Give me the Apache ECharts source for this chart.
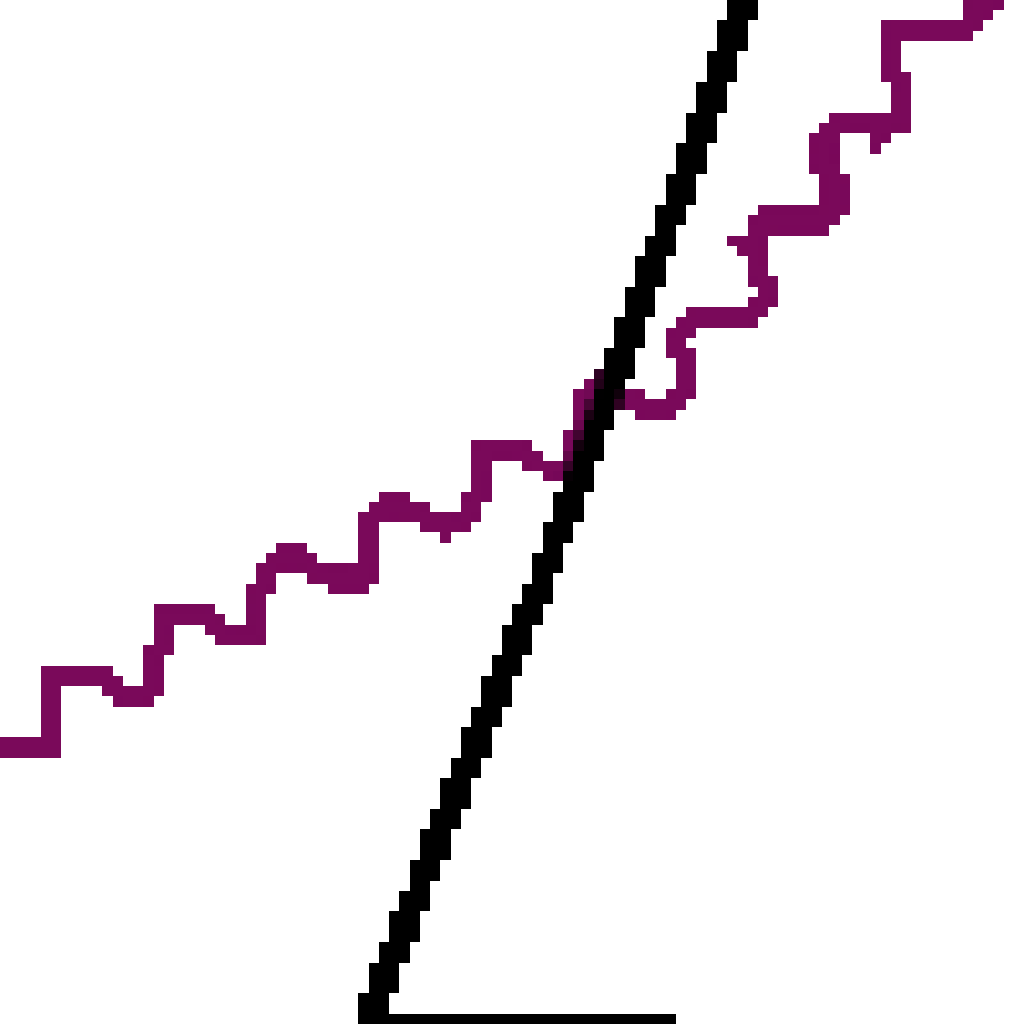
<!DOCTYPE html>
<html>
<head>
<meta charset="utf-8">
<script src="https://cdn.jsdelivr.net/npm/echarts@6/dist/echarts.min.js"></script>
<style>
html,body{margin:0;padding:0;background:#fff;}
#chart{width:1024px;height:1024px;filter:url(#thr);}
#chart canvas{image-rendering:pixelated;}
</style>
</head>
<body>
<svg width="0" height="0" style="position:absolute">
  <filter id="thr" color-interpolation-filters="sRGB">
    <feComponentTransfer>
      <feFuncA type="discrete" tableValues="0 1"/>
    </feComponentTransfer>
  </filter>
</svg>
<div id="chart"></div>
<script>
// Wavy purple series: [x, y] in plot units (y grows downward)
var purpleLine = [
  [0,747],[51,747],[51,677],[105,677],[115,692],[125,697],[140,697],[150,687],[150,662],[160,650],
  [160,617],[205,617],[215,630],[225,637],[255,637],[260,625],[260,590],[270,570],[280,558],[305,558],
  [313,568],[325,578],[363,578],[368,565],[368,518],[378,508],[393,503],[410,508],[425,516],[443,528],
  [460,524],[470,512],[477,500],[477,458],[487,448],[518,448],[528,458],[545,468],[565,468],[572,458],
  [578,440],[586,425],[586,392],[597,385],[612,392],[628,398],[645,410],[665,410],[680,400],[685,388],
  [685,352],[675,345],[682,330],[695,319],[745,319],[758,309],[764,299],[764,285],[754,274],[754,249],
  [744,244],[754,238],[760,226],[770,219],[830,219],[834,212],[834,175],[824,168],[824,135],[834,125],
  [845,120],[873,120],[878,130],[883,122],[903,120],[903,80],[893,73],[893,33],[903,30],[965,30],
  [972,20],[978,8],[990,0],[1005,-8]
];
// Steep black line
var blackLine = [
  [366,1020],[372,1008],[457,790],[542,578],[593,438],[680,190],[742,8],[746,-10]
];
// Black baseline segment
var baseLine = [[358,1019],[675,1019]];

var chart = echarts.init(document.getElementById('chart'), null, {devicePixelRatio: 100/1024});
chart.setOption({
  animation: false,
  backgroundColor: 'transparent',
  grid: {left: 0, right: 0, top: 0, bottom: 0},
  xAxis: {type: 'value', min: 0, max: 1024, show: false},
  yAxis: {type: 'value', min: 0, max: 1024, inverse: true, show: false},
  series: [
    {type: 'line', data: purpleLine, showSymbol: false, symbol: 'none', clip: true,
     lineStyle: {color: '#7a095a', width: 22, join: 'miter', cap: 'butt'}},
    {type: 'line', data: baseLine, showSymbol: false, symbol: 'none', clip: true,
     lineStyle: {color: '#000000', width: 10, cap: 'butt'}},
    {type: 'line', data: blackLine, showSymbol: false, symbol: 'none', clip: true,
     lineStyle: {color: '#000000', width: 28, join: 'miter', cap: 'butt'}}
  ]
});
</script>
</body>
</html>
